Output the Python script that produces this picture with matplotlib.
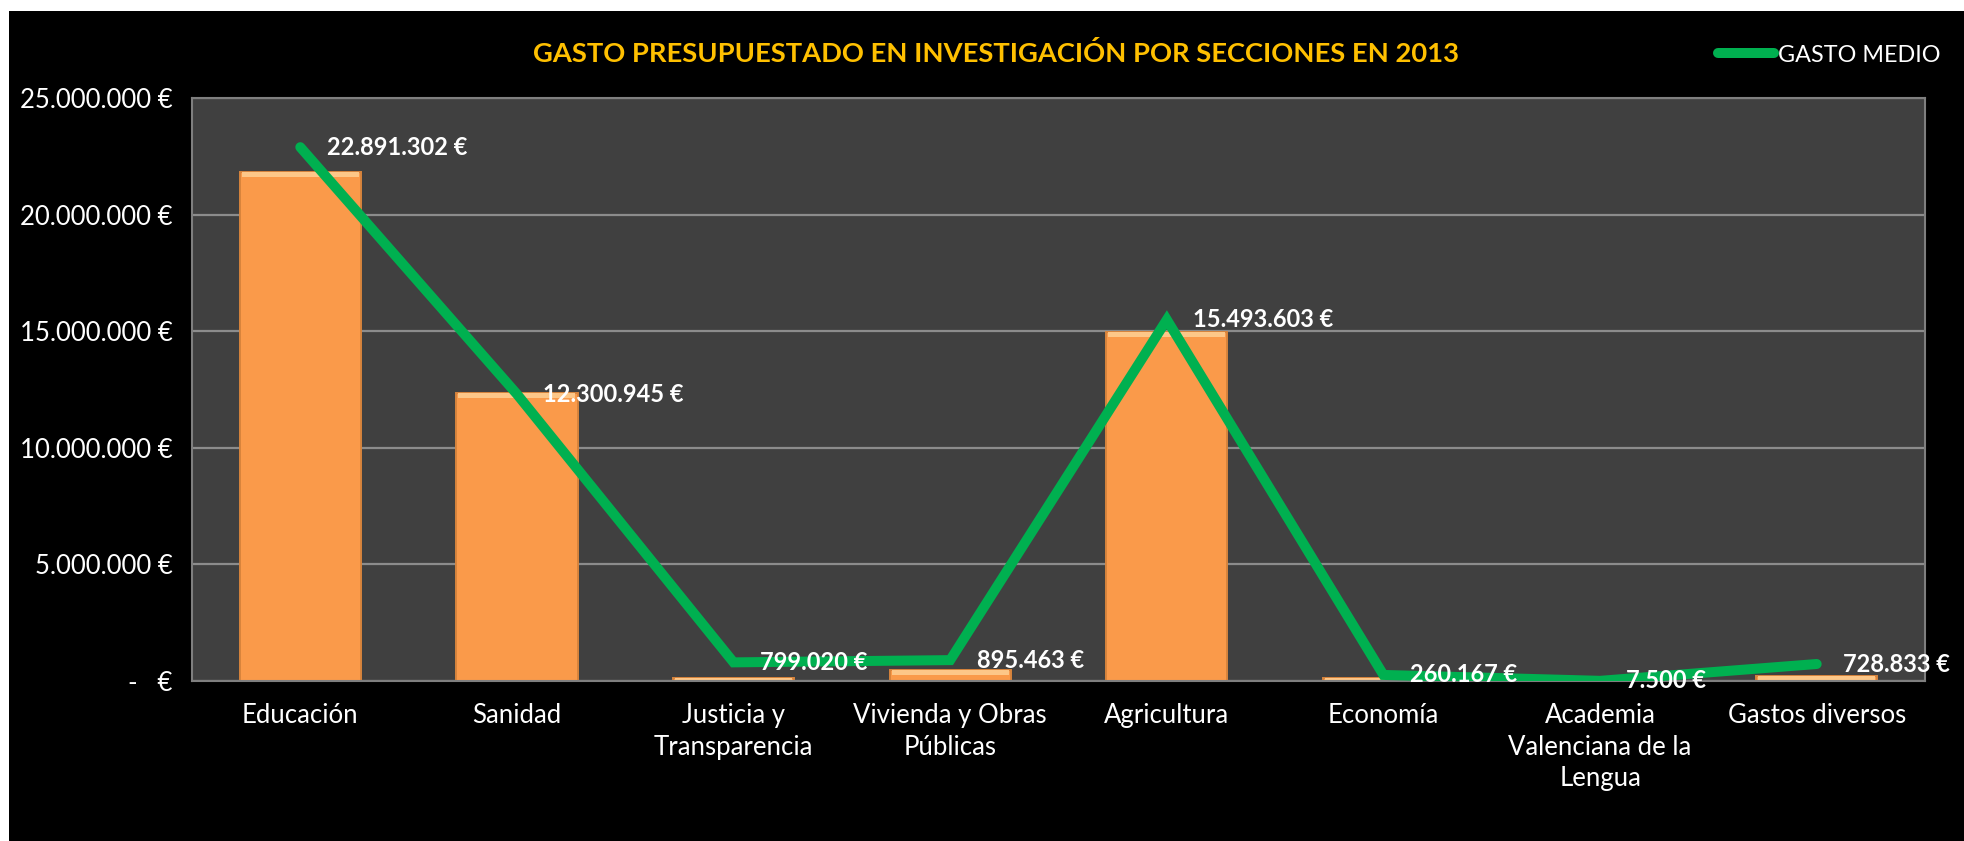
import numpy as np
import matplotlib
matplotlib.use("Agg")
import matplotlib.pyplot as plt
from matplotlib.patches import Rectangle
from matplotlib.lines import Line2D

plt.rcParams['font.family'] = ['Lato', 'DejaVu Sans']

# datos
secciones = ['Educación', 'Sanidad', 'Justicia y\nTransparencia', 'Vivienda y Obras\nPúblicas',
             'Agricultura', 'Economía', 'Academia\nValenciana de la\nLengua', 'Gastos diversos']
gasto_barras = [21840000, 12350000, 140000, 470000, 14970000, 110000, 0, 200000]
gasto_medio = [22891302, 12300945, 799020, 895463, 15493603, 260167, 7500, 728833]
y_ticks = [0, 5000000, 10000000, 15000000, 20000000, 25000000]


def euros(v):
    if v == 0:
        return '-   €'
    return '{:,}'.format(int(v)).replace(',', '.') + ' €'


W, H = 1964, 841
fig = plt.figure(figsize=(W / 100, H / 100), dpi=100, facecolor='white')
# fondo negro del gráfico (borde blanco arriba e izquierda)
fig.patches.append(Rectangle((9 / W, 0), 1 - 9 / W, 1 - 11 / H, transform=fig.transFigure,
                             facecolor='black', edgecolor='none', zorder=-10))

ax = fig.add_axes([192 / W, 1 - 681 / H, (1925 - 192) / W, (681 - 98) / H])
ax.set_zorder(1)
ax.set_facecolor('#404040')

x = np.arange(len(secciones))
ax.bar(x, gasto_barras, width=0.56, color='#FA9A4A', edgecolor='#D8843C', linewidth=1.4, zorder=2)
# brillo superior (bisel)
brillo = np.minimum(np.array(gasto_barras), 220000)
ax.bar(x, brillo, bottom=np.array(gasto_barras) - brillo, width=0.54,
       color='#FDC788', edgecolor='none', zorder=2.1)
ax.plot(x, gasto_medio, color='#00B050', linewidth=7.2, solid_capstyle='round',
        solid_joinstyle='miter', zorder=3, label='GASTO MEDIO')

for xi, v in zip(x, gasto_medio):
    ax.annotate(euros(v), (xi, v), xytext=(19, 0), textcoords='offset points',
                ha='left', va='center', color='white', fontsize=17, fontweight='bold', zorder=4)

ax.set_xlim(-0.5, len(secciones) - 0.5)
ax.set_ylim(0, 25000000)
ax.set_yticks(y_ticks)
ax.set_yticklabels([euros(v) for v in y_ticks])
ax.set_xticks(x)
ax.set_xticklabels(secciones, linespacing=1.33)
ax.tick_params(axis='y', length=0, pad=14, labelsize=18.5, labelcolor='white')
ax.tick_params(axis='x', length=0, pad=16, labelsize=18.5, labelcolor='white')
for lab in ax.get_xticklabels():
    lab.set_verticalalignment('top')

ax.grid(axis='y', color='#8C8C8C', linewidth=1.6, zorder=1)
ax.set_axisbelow(True)
for s in ax.spines.values():
    s.set_color('#7F7F7F')
    s.set_linewidth(1.5)

fig.text(0.507, 1 - 54 / H, 'GASTO PRESUPUESTADO EN INVESTIGACIÓN POR SECCIONES EN 2013',
         ha='center', va='center', color='#FFC000', fontsize=19.7, fontweight='bold')

handle = Line2D([], [], color='#00B050', linewidth=7.2, solid_capstyle='round')
fig.legend([handle], ['GASTO MEDIO'], loc='center left', bbox_to_anchor=(1718 / W, 1 - 55 / H),
           frameon=False, fontsize=16.8, labelcolor='white', handlelength=2.4, handletextpad=0.15,
           borderpad=0, borderaxespad=0)

fig.savefig('out.png', dpi=100, facecolor=fig.get_facecolor())
